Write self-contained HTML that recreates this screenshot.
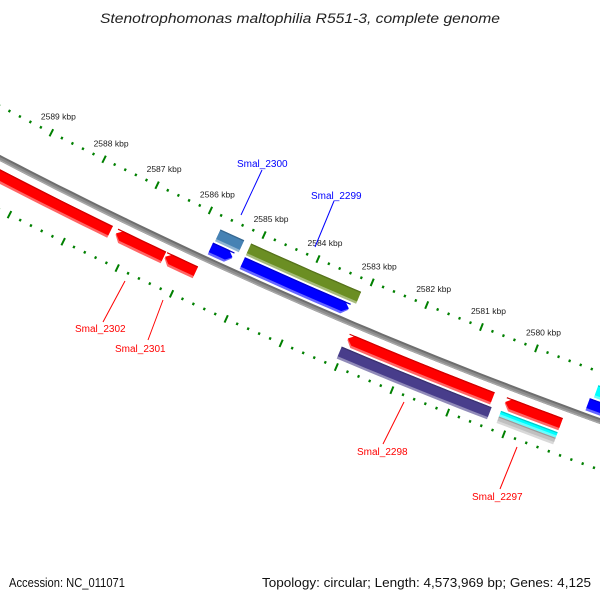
<!DOCTYPE html>
<html><head><meta charset="utf-8"><style>
html,body{margin:0;padding:0;background:#fff;}
svg{display:block;font-family:"Liberation Sans",sans-serif;}
</style></head><body>
<svg id="map" width="600" height="600" viewBox="0 0 600 600" xmlns="http://www.w3.org/2000/svg">
<rect width="600" height="600" fill="#fff"/>
<text x="100" y="23" textLength="400" lengthAdjust="spacingAndGlyphs" font-size="13.5" font-style="italic" fill="#222">Stenotrophomonas maltophilia R551-3, complete genome</text>
<g id="ticks"></g>
<g id="backbone"></g>
<g id="feats"></g>
<g id="labels">
<line x1="262" y1="170" x2="241" y2="215" stroke="#0000ff" stroke-width="1"/>
<text x="237" y="167" font-size="10" fill="#0000ff">Smal_2300</text>
<line x1="334" y1="201" x2="315" y2="247" stroke="#0000ff" stroke-width="1"/>
<text x="311" y="199" font-size="10" fill="#0000ff">Smal_2299</text>
<line x1="103" y1="322" x2="125" y2="281" stroke="#ff0000" stroke-width="1"/>
<text x="75" y="332" font-size="10" fill="#ff0000">Smal_2302</text>
<line x1="148" y1="340" x2="163" y2="300" stroke="#ff0000" stroke-width="1"/>
<text x="115" y="352" font-size="10" fill="#ff0000">Smal_2301</text>
<line x1="383" y1="444" x2="404" y2="402" stroke="#ff0000" stroke-width="1"/>
<text x="357" y="455" font-size="10" fill="#ff0000">Smal_2298</text>
<line x1="500" y1="489" x2="517" y2="447" stroke="#ff0000" stroke-width="1"/>
<text x="472" y="500" font-size="10" fill="#ff0000">Smal_2297</text>
</g>
<text x="9" y="587" textLength="116" lengthAdjust="spacingAndGlyphs" font-size="12.5" fill="#111">Accession: NC_011071</text>
<text x="262" y="587" textLength="329" lengthAdjust="spacingAndGlyphs" font-size="12.5" fill="#111">Topology: circular; Length: 4,573,969 bp; Genes: 4,125</text>
</svg>
<script>
const featStart = [2587.37, 2586.38, 2585.79, 2585.27, 2585.33, 2583.11, 2583.19, 2580.39, 2580.35, 2579.17, 2579.17, 2579.17, 2576.5, 2576.5];
const featEnd   = [2592.5, 2587.27, 2586.36, 2585.71, 2585.73, 2585.14, 2585.14, 2583.01, 2583.05, 2580.17, 2580.18, 2580.18, 2578.86, 2578.80];
const featRow   = ['r1','r1','r1','f2','f1','f2','f1','r1','r2','r1','r2a','r2b','f1','f2'];
const featArrow = ['hi','hi','hi','none','lo','none','lo','hi','none','hi','none','none','lo','none'];
const featColor = ['#ff0000','#ff0000','#ff0000','#4682b4','#0000ff','#6b8e23','#0000ff','#ff0000','#483d8b','#ff0000','#00ffff','#c0c0c0','#0000ff','#00ffff'];
const featName  = ['smal-2303','smal-2302','smal-2301','smal-2300-gene','smal-2300','smal-2299-gene','smal-2299','smal-2298','smal-2298-gene','smal-2297','smal-2297-gene','smal-2297-misc','smal-2296','smal-2296-gene'];
const majorTicks = [2580,2581,2582,2583,2584,2585,2586,2587,2588,2589];
const tickLabels = ['2580 kbp','2581 kbp','2582 kbp','2583 kbp','2584 kbp','2585 kbp','2586 kbp','2587 kbp','2588 kbp','2589 kbp'];
const rulerMin = 2577.6, rulerMax = 2590.8, minorStep = 0.2;

const NS='http://www.w3.org/2000/svg';
function circ(a,b,c){const d=2*(a[0]*(b[1]-c[1])+b[0]*(c[1]-a[1])+c[0]*(a[1]-b[1]));
const s=p=>p[0]*p[0]+p[1]*p[1];
const ux=(s(a)*(b[1]-c[1])+s(b)*(c[1]-a[1])+s(c)*(a[1]-b[1]))/d;
const uy=(s(a)*(c[0]-b[0])+s(b)*(a[0]-c[0])+s(c)*(b[0]-a[0]))/d;return [ux,uy];}
const C=circ([0,158],[290,297],[600,421]);
const R=Math.hypot(290-C[0],297-C[1]);
const th0=Math.atan2(233-C[1],265-C[0]);
const th5=Math.atan2(347-C[1],537-C[0]);
const dth=(th5-th0)/(2580-2585);
function pos(k,v){const t=th0+(k-2585)*dth;const r=R+v;return [C[0]+r*Math.cos(t),C[1]+r*Math.sin(t)];}
const kPerPx=1/Math.abs(dth*R);
const rows={f1:[-18,-5],f2:[-33,-20],r1:[10,23],r2:[25,38],r2a:[25,31],r2b:[31,38]};
function shape(k1,k2,v1,v2,arrow){
  const a=6*kPerPx; let b1=k1,b2=k2;
  if(arrow==='lo')b1=k1+a; if(arrow==='hi')b2=k2-a;
  const n=Math.max(2,Math.ceil((b2-b1)/0.25));
  const pts=[];
  for(let i=0;i<=n;i++)pts.push(pos(b1+(b2-b1)*i/n,v1));
  if(arrow==='hi')pts.push(pos(k2,(v1+v2)/2));
  for(let i=n;i>=0;i--)pts.push(pos(b1+(b2-b1)*i/n,v2));
  if(arrow==='lo')pts.push(pos(k1,(v1+v2)/2));
  return pts.map(p=>p[0].toFixed(1)+','+p[1].toFixed(1)).join(' ');
}
function lighten(hex,f){const n=parseInt(hex.slice(1),16);let r=n>>16,g=(n>>8)&255,b=n&255;
r=Math.round(r+(255-r)*f);g=Math.round(g+(255-g)*f);b=Math.round(b+(255-b)*f);return `rgb(${r},${g},${b})`;}
function darken(hex,f){const n=parseInt(hex.slice(1),16);let r=n>>16,g=(n>>8)&255,b=n&255;
return `rgb(${Math.round(r*f)},${Math.round(g*f)},${Math.round(b*f)})`;}

const bb=document.getElementById('backbone');
[[-2.8,2.8,'#6e6e6e'],[-0.8,2.8,'#8c8c8c'],[1.4,2.8,'#a8a8a8']].forEach(s=>{
  const p=document.createElementNS(NS,'polygon');
  
  
  p.setAttribute('points',shape(2576,2592,s[0],s[1],'none'));p.setAttribute('fill',s[2]);bb.appendChild(p);});

const tg=document.getElementById('ticks');
[-46,46].forEach((vv,ri)=>{
  const nSteps=Math.round((rulerMax-rulerMin)/minorStep);
  for(let i=0;i<=nSteps;i++){
    const k=rulerMin+i*minorStep;
    const isMajor=majorTicks.some(m=>Math.abs(m-k)<1e-6);
    const len=isMajor?4:1.3;
    const p1=pos(k,vv-len),p2=pos(k,vv+len);
    const l=document.createElementNS(NS,'line');
    
    
    l.setAttribute('x1',p1[0]);l.setAttribute('y1',p1[1]);l.setAttribute('x2',p2[0]);l.setAttribute('y2',p2[1]);
    l.setAttribute('stroke','#008000');l.setAttribute('stroke-width',isMajor?2:2.2);
    tg.appendChild(l);
  }
});
majorTicks.forEach((k,i)=>{
  const p=pos(k,-46);
  const t=document.createElementNS(NS,'text');
  
  
  t.setAttribute('x',p[0]+7);t.setAttribute('y',p[1]-13);
  t.setAttribute('text-anchor','middle');t.setAttribute('font-size','8.5');t.setAttribute('fill','#222');
  t.textContent=tickLabels[i];tg.appendChild(t);
});

const fg=document.getElementById('feats');
featStart.forEach((s,i)=>{
  const e=featEnd[i];const rv=rows[featRow[i]];const col=featColor[i];
  const g=document.createElementNS(NS,'g');
  
  
  const p1=document.createElementNS(NS,'polygon');
  
  
  p1.setAttribute('points',shape(s,e,rv[0],rv[1],featArrow[i]));p1.setAttribute('fill',lighten(col,0.4));
  const p2=document.createElementNS(NS,'polygon');
  
  
  p2.setAttribute('points',shape(s,e,rv[0],rv[1]-2.5,featArrow[i]));p2.setAttribute('fill',col);
  const p3=document.createElementNS(NS,'polygon');
  
  
  p3.setAttribute('points',shape(s,e,rv[0],rv[0]+1.2,'none'));p3.setAttribute('fill',darken(col,0.8));
  g.appendChild(p1);g.appendChild(p2);g.appendChild(p3);fg.appendChild(g);
});
</script>
</body></html>
